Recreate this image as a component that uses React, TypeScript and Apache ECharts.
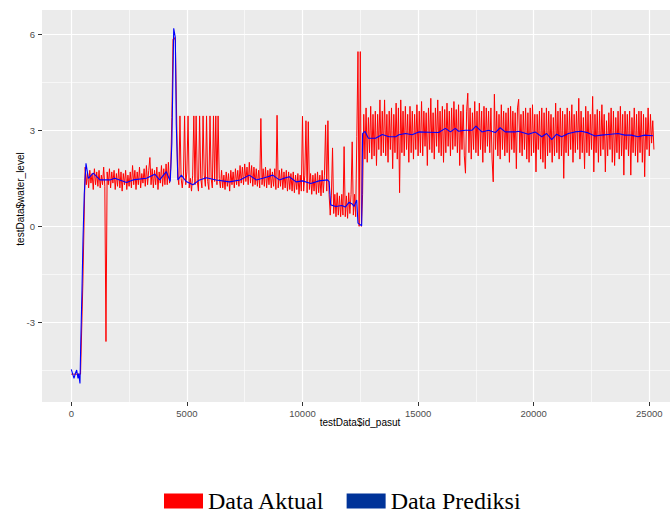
import React, { useEffect, useRef } from "react";
import * as echarts from "echarts";

// ---- Data ----
// Actual water level (testData$water_level), by id_pasut, in segments of equal step
const actualStartX = 0; const actualStartStep = 100;
const actualStart = [-4.62, -4.62, -4.62, -4.62, -4.62, -1.8];

const actualFirstX = 600; const actualFirstStep = 50;
const actualFirst = [
  1.85, 1.3, 1.7, 1.2, 1.75, 1.35, 1.65, 1.15, 1.8, 1.3,
  1.7, 1.25, 1.75, 1.2, 1.6, 1.3, 1.85, 1.25, -3.6, 1.7,
  1.3, 1.8, 1.2, 1.7, 1.35, 1.75, 1.15, 1.65, 1.25, 1.8,
  1.2, 1.7, 1.1, 1.65, 1.3, 1.75, 1.15, 1.6, 1.25, 1.7,
  1.2, 1.9, 1.3, 1.75, 1.15, 1.7, 1.3, 1.85, 1.2, 1.65,
  1.35, 1.8, 1.25, 1.9, 1.3, 1.75, 2.15, 1.3, 1.8, 1.2,
  1.75, 1.3, 1.85, 1.15, 1.7, 1.35, 1.9, 1.25, 1.8, 1.3,
  1.95, 1.3, 2.0, 1.35, 1.8, 3.4, 5.85, 5.9, 5.8,
];

const actualSpikyX = 4600; const actualSpikyStep = 50;
const actualSpiky = [
  1.6, 1.3, 3.45, 1.5, 1.2, 1.6, 3.45, 1.3, 1.7, 3.45,
  1.2, 1.5, 1.1, 1.6, 3.45, 1.3, 3.45, 1.4, 1.1, 3.45,
  1.5, 1.2, 3.45, 1.6, 1.25, 3.45, 1.4, 1.15, 3.45, 1.5,
  1.2, 3.45, 1.4, 3.45, 1.3, 3.45, 1.5, 1.2,
];

const actualPlateauX = 6500; const actualPlateauStep = 50;
const actualPlateau = [
  1.75, 1.2, 1.6, 1.15, 1.7, 1.25, 1.65, 1.1, 1.75, 1.3,
  1.7, 1.2, 1.8, 1.3, 1.75, 1.25, 1.9, 1.35, 1.85, 1.3,
  1.95, 1.4, 1.85, 1.3, 2.0, 1.35, 1.9, 1.25, 1.85, 1.3,
  1.8, 1.25, 1.75, 1.2, 3.37, 1.3, 1.8, 1.25, 1.85, 1.2,
  1.75, 1.3, 1.8, 1.2, 1.7, 1.25, 1.8, 1.15, 3.47, 1.2,
  1.75, 1.25, 1.8, 1.15, 1.7, 1.2, 1.75, 1.1, 1.7, 1.15,
  1.65, 1.1, 1.7, 1.05, 1.6, 1.15, 1.65, 1.0, 1.6, 1.1,
  3.44, 1.1, 1.6, 3.3, 1.05, 3.27, 1.15, 1.65, 1.0, 1.6,
  1.1, 1.65, 1.0, 1.7, 1.05, 1.6, 0.95, 1.75, 1.05, 1.6,
  3.17, 1.1, 3.3, 1.0,
];

const actualDipX = 11200; const actualDipStep = 50;
const actualDip = [
  0.35, 0.95, 2.45, 0.4, 1.0, 0.3, 1.05, 0.35, 0.95, 0.3,
  1.0, 0.35, 2.49, 0.3, 0.95, 0.25, 1.05, 0.4, 1.0, 2.64,
  0.35, 1.0, 0.3, 2.8, 5.46, 0.0, 5.46, 0.0,
];

const actualHighX = 12600; const actualHighStep = 50;
const actualHigh = [
  1.0, 3.5, 2.1, 3.7, 2.0, 3.4, 2.3, 3.75, 2.1, 3.5,
  2.2, 3.6, 1.9, 3.5, 2.4, 3.95, 2.2, 3.6, 2.3, 3.95,
  2.2, 3.5, 2.0, 3.6, 2.4, 3.7, 1.8, 3.5, 2.3, 3.85,
  2.1, 3.7, 1.05, 3.95, 2.3, 3.6, 2.2, 3.75, 2.4, 3.5,
  2.0, 3.75, 2.3, 3.6, 2.1, 3.5, 2.4, 3.8, 2.2, 3.6,
  2.3, 3.9, 2.2, 3.6, 2.5, 3.55, 1.9, 3.7, 2.4, 4.0,
  2.3, 3.55, 2.1, 3.7, 2.5, 3.95, 2.3, 3.6, 2.2, 3.75,
  2.0, 3.65, 2.3, 3.85, 2.5, 3.6, 2.2, 3.7, 2.4, 3.9,
  2.5, 3.65, 2.3, 3.8, 1.9, 3.6, 2.4, 3.8, 2.2, 1.66,
  3.6, 4.16, 2.3, 3.7, 2.1, 3.55, 2.4, 3.9, 2.3, 3.6,
  2.2, 3.85, 2.4, 3.6, 2.0, 3.75, 2.3, 3.7, 2.5, 3.6,
  2.3, 3.7, 2.1, 1.39, 4.13, 2.4, 3.6, 2.2, 3.5, 2.1,
  3.8, 2.4, 3.6, 2.2, 3.55, 2.3, 3.7, 2.0, 3.75, 2.4,
  3.6, 2.3, 3.55, 1.8, 3.7, 3.97, 2.3, 3.5, 2.2, 3.6,
  2.4, 3.7, 2.1, 3.55, 2.0, 3.7, 2.2, 3.8, 2.3, 3.5,
  1.7, 3.5, 2.4, 3.6, 2.1, 3.7, 2.0, 3.55, 1.8, 3.7,
  2.2, 3.6, 2.3, 3.5, 2.0, 3.4, 2.2, 3.85, 2.3, 3.6,
  2.1, 3.7, 2.2, 3.6, 1.5, 3.5, 2.3, 3.7, 2.2, 3.6,
  2.4, 3.8, 2.0, 3.5, 2.3, 3.6, 2.4, 4.0, 2.1, 3.6,
  2.3, 3.4, 1.8, 3.75, 2.3, 3.6, 2.2, 3.5, 2.4, 4.06,
  1.7, 3.5, 2.3, 3.65, 2.0, 3.6, 2.2, 3.8, 2.4, 3.5,
  1.7, 3.3, 2.2, 3.55, 2.4, 3.7, 2.0, 3.6, 1.9, 3.4,
  2.3, 3.6, 2.1, 3.75, 2.2, 3.5, 1.6, 3.6, 2.4, 3.5,
  2.2, 3.6, 1.6, 3.4, 2.3, 3.7, 2.2, 3.5, 2.0, 3.6,
  2.3, 3.6, 2.0, 3.5, 1.55, 3.4, 2.4, 3.7, 2.2, 3.5,
  2.6, 3.3, 2.4,
];

// Predicted water level: [id_pasut, value]
const predicted: [number, number][] = [
  [0, -4.47], [117, -4.75], [175, -4.6], [233, -4.49], [290, -4.75], [320, -4.6],
  [376, -4.91], [406, -3.76], [463, -1.97], [506, -0.43], [560, 1.0], [636, 1.97],
  [740, 1.5], [950, 1.66], [1240, 1.45], [1670, 1.45], [1880, 1.5], [2390, 1.37],
  [2670, 1.45], [3250, 1.5], [3610, 1.63], [3820, 1.45], [4110, 1.71], [4280, 1.4],
  [4350, 2.6], [4430, 6.19], [4500, 5.9], [4540, 3.2], [4610, 1.45], [4760, 1.6],
  [4970, 1.4], [5260, 1.3], [5550, 1.45], [5840, 1.52], [6270, 1.45], [6840, 1.39],
  [7300, 1.45], [7700, 1.6], [8000, 1.45], [8280, 1.5], [8500, 1.55], [8710, 1.6],
  [9000, 1.45], [9200, 1.5], [9430, 1.55], [9720, 1.39], [10000, 1.42], [10360, 1.34],
  [10720, 1.42], [11080, 1.45], [11150, 1.4], [11220, 0.67], [11440, 0.62], [11700, 0.65],
  [11850, 0.6], [12010, 0.75], [12150, 0.7], [12230, 0.62], [12345, 0.82], [12400, 0.1],
  [12560, 0.02], [12600, 2.9], [12700, 2.97], [12850, 2.75], [13160, 2.75], [13450, 2.87],
  [13740, 2.8], [14030, 2.8], [14170, 2.86], [14460, 2.9], [14740, 2.86], [15030, 2.95],
  [15460, 2.94], [15890, 2.93], [16180, 3.06], [16400, 2.95], [16610, 3.06], [16750, 2.97],
  [17040, 3.0], [17330, 3.0], [17500, 3.13], [17760, 2.95], [18050, 3.0], [18340, 2.93],
  [18550, 3.08], [18770, 2.95], [19200, 2.95], [19340, 2.97], [19770, 2.88], [20060, 2.95],
  [20350, 2.8], [20560, 2.9], [20780, 2.71], [20990, 2.88], [21210, 2.8], [21500, 2.9],
  [21780, 2.95], [22070, 2.97], [22360, 2.92], [22650, 2.82], [22930, 2.85], [23220, 2.87],
  [23650, 2.9], [23940, 2.85], [24220, 2.85], [24510, 2.8], [24800, 2.85], [25160, 2.83],
];

// Axis ticks and grid lines
const xTicks = [0, 5000, 10000, 15000, 20000, 25000];
const xMinor = [2500, 7500, 12500, 17500, 22500];
const yTicks = [-3, 0, 3, 6];
const yMinor = [-4.5, -1.5, 1.5, 4.5];

const seriesNames = ["Data Aktual", "Data Prediksi"];

function segment(startX: number, step: number, values: number[]): [number, number][] {
  return values.map((v, i) => [startX + i * step, v]);
}

export default function App() {
  const ref = useRef<HTMLDivElement>(null);
  useEffect(() => {
    document.body.style.margin = "0";
    if (!ref.current) return;
    const chart = echarts.init(ref.current, undefined, { renderer: "svg" });
    const actual = [
      ...segment(actualStartX, actualStartStep, actualStart),
      ...segment(actualFirstX, actualFirstStep, actualFirst),
      ...segment(actualSpikyX, actualSpikyStep, actualSpiky),
      ...segment(actualPlateauX, actualPlateauStep, actualPlateau),
      ...segment(actualDipX, actualDipStep, actualDip),
      ...segment(actualHighX, actualHighStep, actualHigh),
    ];
    const axisText = { color: "#4D4D4D", fontSize: 9.5, fontFamily: "Liberation Sans, Arial, sans-serif" };
    const gridMark = (vals: number[], key: "xAxis" | "yAxis", width: number) =>
      vals.map((v) => ({ [key]: v, lineStyle: { color: "#FFFFFF", width, type: "solid" } }));
    chart.setOption({
      animation: false,
      backgroundColor: "#FFFFFF",
      grid: {
        left: 42, top: 10, width: 628, height: 392,
        show: true, backgroundColor: "#EBEBEB", borderWidth: 0, containLabel: false,
      },
      xAxis: {
        type: "value", min: -1267, max: 25896,
        axisLine: { show: false, onZero: false },
        splitLine: { show: false },
        axisTick: { show: true, length: 4, lineStyle: { color: "#333333", width: 1 }, customValues: xTicks },
        axisLabel: { ...axisText, margin: 6, customValues: xTicks, formatter: (v: number) => String(v) },
      },
      yAxis: {
        type: "value", min: -5.49, max: 6.76,
        axisLine: { show: false, onZero: false },
        splitLine: { show: false },
        axisTick: { show: true, length: 4, lineStyle: { color: "#333333", width: 1 }, customValues: yTicks },
        axisLabel: { ...axisText, margin: 7, customValues: yTicks, formatter: (v: number) => String(v) },
      },
      legend: {
        data: [
          { name: seriesNames[0], itemStyle: { color: "#FF0000" } },
          { name: seriesNames[1], itemStyle: { color: "#003399" } },
        ],
        icon: "rect",
        left: 164, top: 489, padding: 0,
        itemWidth: 39, itemHeight: 15, itemGap: 22,
        selectedMode: false,
        textStyle: { fontSize: 24, lineHeight: 22, fontFamily: "Liberation Serif, Times New Roman, serif", color: "#000000" },
      },
      series: [
        {
          name: "grid-lines", type: "line", data: [], silent: true, z: 0,
          markLine: {
            silent: true, symbol: "none", z: 0, animation: false,
            label: { show: false },
            data: [
              ...gridMark(xMinor, "xAxis", 0.6),
              ...gridMark(yMinor, "yAxis", 0.6),
              ...gridMark(xTicks, "xAxis", 1.2),
              ...gridMark(yTicks, "yAxis", 1.2),
            ],
          },
        },
        {
          name: seriesNames[0], type: "line", data: actual, z: 2,
          showSymbol: false, symbol: "none",
          lineStyle: { color: "#FF0000", width: 1 }, itemStyle: { color: "#FF0000" },
        },
        {
          name: seriesNames[1], type: "line", data: predicted, z: 3,
          showSymbol: false, symbol: "none",
          lineStyle: { color: "#0000FF", width: 1.1 }, itemStyle: { color: "#0000FF" },
        },
      ],
      graphic: [
        {
          type: "text", x: 360, y: 422,
          style: { text: "testData$id_pasut", fontSize: 10, fontFamily: "Liberation Sans, Arial, sans-serif", fill: "#000000", textAlign: "center", textVerticalAlign: "middle" },
        },
        {
          type: "text", x: 20, y: 199, rotation: Math.PI / 2,
          style: { text: "testData$water_level", fontSize: 10, fontFamily: "Liberation Sans, Arial, sans-serif", fill: "#000000", textAlign: "center", textVerticalAlign: "middle" },
        },
      ],
    });
    return () => chart.dispose();
  }, []);
  return <div ref={ref} style={{ width: 670, height: 514 }} />;
}
